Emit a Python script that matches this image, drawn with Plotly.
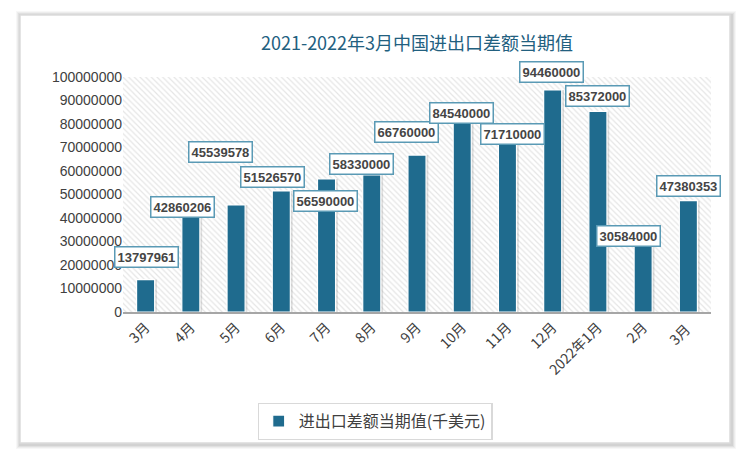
import plotly.graph_objects as go

categories = ["3月", "4月", "5月", "6月", "7月", "8月", "9月", "10月", "11月", "12月", "2022年1月", "2月", "3月 "]
values = [13797961, 42860206, 45539578, 51526570, 56590000, 58330000, 66760000,
          84540000, 71710000, 94460000, 85372000, 30584000, 47380353]
label_texts = ["13797961", "42860206", "45539578", "51526570", "56590000", "58330000", "66760000",
               "84540000", "71710000", "94460000", "85372000", "30584000", "47380353"]
# label offsets from bar tops (pixels)
label_dx = [1, -8, -16, -9, -1, -10, -11, -1, 5, -1, 0, -15, 0]
label_dy = [23, 4, 53, 14, -22, 11, 23, 0, 9, 18, 15, 4, 15]

series_name = "进出口差额当期值(千美元)"
title = "2021-2022年3月中国进出口差额当期值"
Y_MAX = 100000000
Y_STEP = 10000000

BAR = "#1f6b8e"
FONT = "Noto Sans CJK SC"

fig = go.Figure()

# hatched plot-area background
fig.add_trace(go.Bar(
    x=[categories[len(categories) // 2]], y=[Y_MAX], width=[len(categories)],
    marker=dict(color="white", line=dict(width=0),
                pattern=dict(shape="\\", fgcolor="#cccccc", bgcolor="white", size=4, solidity=0.3)),
    showlegend=False, hoverinfo="skip",
))

# shadow
fig.add_trace(go.Bar(
    x=categories, y=values, width=0.4, offset=-0.2 + 0.05,
    marker=dict(color="rgba(110,110,110,0.22)", line=dict(width=0)),
    showlegend=False, hoverinfo="skip",
))

fig.add_trace(go.Bar(
    x=categories, y=values, name=series_name, width=0.4,
    marker=dict(color=BAR, line=dict(color="white", width=1.2)),
))

for c, v, t, dx, dy in zip(categories, values, label_texts, label_dx, label_dy):
    fig.add_annotation(
        x=c, y=v, text="<b>" + t + "</b>", showarrow=False, xshift=dx, yshift=dy,
        font=dict(family="Liberation Sans", size=13, color="#454545"),
        bgcolor="white", bordercolor="#5a9ab5", borderwidth=1.5, borderpad=2,
    )

# card with shadow
for i, op in enumerate([0.03, 0.04, 0.05, 0.06]):
    d = (4 - i) * 1.0
    fig.add_shape(type="rect", xref="paper", yref="paper", layer="below",
                  x0=(20 - d - 123) / 588, x1=(730 + d + 2 - 123) / 588,
                  y0=(312 - 443 - d - 2) / 235, y1=(312 - 15 + d) / 235,
                  line=dict(width=0), fillcolor=f"rgba(0,0,0,{op})")
fig.add_shape(type="rect", xref="paper", yref="paper", layer="below",
              x0=(20 - 123) / 588, x1=(730 - 123) / 588,
              y0=(312 - 443) / 235, y1=(312 - 15) / 235,
              line=dict(width=1.5, color="#dcdcdc"), fillcolor="white")

fig.update_layout(
    width=750, height=461,
    margin=dict(l=123, r=39, t=77, b=149),
    paper_bgcolor="white", plot_bgcolor="rgba(0,0,0,0)",
    barmode="overlay", bargap=0.6,
    title=dict(text=title, x=0.5, xref="paper", xanchor="center", y=1 - 44 / 461, yanchor="middle",
               font=dict(family=FONT, size=18, color="#22607f")),
    xaxis=dict(type="category", categoryorder="array", categoryarray=categories,
               tickangle=-45, tickfont=dict(family=FONT, size=14, color="#404040"),
               showline=True, linecolor="#a6a6a6", linewidth=1.5, showgrid=False,
               ticks="", range=[-0.5, len(categories) - 0.5]),
    yaxis=dict(range=[0, Y_MAX], dtick=Y_STEP, tickformat="d", showgrid=False, zeroline=False,
               showline=False, ticks="", tickfont=dict(family="Liberation Sans", size=14, color="#404040")),
    legend=dict(orientation="h", x=(375 - 123) / 588, xanchor="center", y=(312 - 403) / 235, yanchor="top",
                bordercolor="#d9d9d9", borderwidth=1.2, bgcolor="white", itemwidth=30,
                font=dict(family=FONT, size=16, color="#404040")),
    showlegend=True,
)

fig.write_html("out.html", config={"displayModeBar": False},
               post_script="document.body.style.margin='0';")
